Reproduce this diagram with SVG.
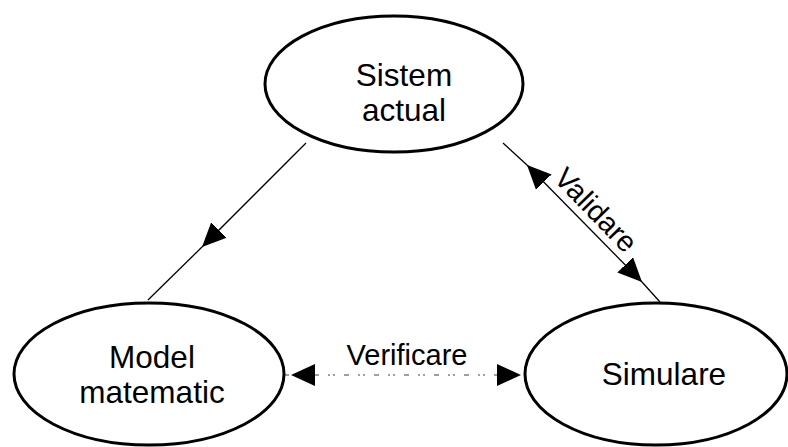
<svg xmlns="http://www.w3.org/2000/svg" width="788" height="447" viewBox="0 0 788 447">
  <style>
    .node ellipse { fill: #ffffff; stroke: #000000; stroke-width: 3; }
    .label { font-family: "Liberation Sans", Arial, sans-serif; font-size: 31.5px; fill: #000000; text-anchor: middle; }
    .edge-label { font-family: "Liberation Sans", Arial, sans-serif; font-size: 29px; fill: #000000; text-anchor: middle; }
    .edge { fill: none; stroke: #000000; stroke-width: 1.3; }
    .dashed { fill: none; stroke: #808080; stroke-width: 1.3; stroke-dasharray: 5 9 2 3 2 9; }
  </style>
  <defs>
    <marker id="arrow" viewBox="0 0 24 22" refX="24" refY="11" markerWidth="24" markerHeight="22" markerUnits="userSpaceOnUse" orient="auto">
      <path d="M0,0 L24,11 L0,22 Z" fill="#000000"/>
    </marker>
  </defs>

  <rect width="788" height="447" fill="#ffffff"/>

  <g id="connectors">
    <!-- Sistem actual -> Model matematic -->
    <path class="edge" d="M306,143 L202,247" marker-end="url(#arrow)"/>
    <path class="edge" d="M202,247 L148,300"/>
    <!-- Validare: Sistem actual <-> Simulare -->
    <path class="edge" d="M585,224 L527,165" marker-end="url(#arrow)"/>
    <path class="edge" d="M527,165 L503,143"/>
    <path class="edge" d="M585,224 L642,282" marker-end="url(#arrow)"/>
    <path class="edge" d="M642,282 L660,302"/>
    <text class="edge-label" transform="translate(596,210) rotate(46)" y="10" font-size="30">Validare</text>
    <!-- Verificare: Model matematic <-> Simulare -->
    <path class="dashed" d="M284,375 L525,375"/>
    <path d="M315,375 L291,375" class="edge" stroke-opacity="0" marker-end="url(#arrow)"/>
    <path d="M497,375 L521,375" class="edge" stroke-opacity="0" marker-end="url(#arrow)"/>
    <text class="edge-label" x="407" y="365">Verificare</text>
  </g>

  <g id="sistem-actual" class="node">
    <ellipse cx="394" cy="84" rx="129" ry="68"/>
    <text class="label" x="404" y="86">Sistem</text>
    <text class="label" x="404" y="121">actual</text>
  </g>

  <g id="model-matematic" class="node">
    <ellipse cx="149" cy="374" rx="135" ry="71"/>
    <text class="label" x="152" y="368">Model</text>
    <text class="label" x="152" y="403">matematic</text>
  </g>

  <g id="simulare" class="node">
    <ellipse cx="656" cy="374" rx="131" ry="71"/>
    <text class="label" x="664" y="385">Simulare</text>
  </g>
</svg>
